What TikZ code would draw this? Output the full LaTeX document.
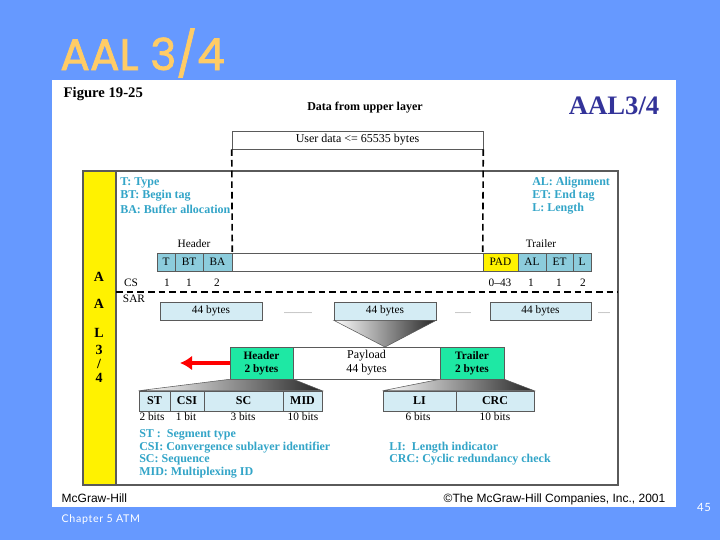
\documentclass[tikz,border=0pt]{standalone}
\usepackage{fontspec}
\setmainfont{Liberation Serif}
\newfontfamily\arialfont{Liberation Sans}
\newfontfamily\titlefont[FakeBold=1.6]{Poppins}
\newfontfamily\slidefont[LetterSpace=6]{Lato}
\usetikzlibrary{arrows.meta}

\definecolor{slidebg}{RGB}{102,153,255}
\definecolor{titlecol}{RGB}{255,204,102}
\definecolor{legendcol}{RGB}{51,165,200}
\definecolor{cscol}{RGB}{140,204,220}
\definecolor{sarcol}{RGB}{212,236,244}
\definecolor{greencol}{RGB}{30,232,164}
\definecolor{aalblue}{RGB}{51,51,153}
\definecolor{framecol}{RGB}{90,90,90}

\begin{document}
\begin{tikzpicture}[x=0.75pt, y=-0.75pt,
	lbl/.style={font=\fontsize{8.5}{10}\selectfont, inner sep=0pt},
	legend/.style={font=\bfseries\fontsize{9}{10.5}\selectfont, text=legendcol, anchor=west, inner sep=0pt},
	cell/.style={draw=framecol, inner sep=0pt, minimum height=18*0.75pt, font=\fontsize{8.5}{10}\selectfont},
	gcell/.style={draw=framecol, fill=greencol, inner sep=0pt, minimum height=32*0.75pt, align=center, font=\bfseries\fontsize{8.5}{10}\selectfont},
	funnel/.style={left color=white, right color=black!85, draw=framecol}]
	
	% Slide background
	\useasboundingbox (0,0) rectangle (720,540);
	\fill[slidebg] (0,0) rectangle (720,540);
	\fill[white] (52,80) rectangle (676,507);
	
	% Slide title and footer
	\node[anchor=base west, text=titlecol, font=\titlefont\fontsize{33}{33}\selectfont, inner sep=0pt] (title) at (60,70) {AAL 3/4};
	\node[anchor=west, text=white, font=\slidefont\fontsize{8}{9}\selectfont] (chapter) at (57,519) {Chapter 5 ATM};
	\node[text=white, font=\slidefont\fontsize{8.5}{9}\selectfont] (pageno) at (704,507) {45};
	\node[anchor=base west, font=\arialfont\fontsize{9}{10}\selectfont] (pub) at (57,502) {McGraw-Hill};
	\node[anchor=base east, font=\arialfont\fontsize{9}{10}\selectfont] (copy) at (670,502) {\textcopyright The McGraw-Hill Companies, Inc., 2001};
	
	% Figure heading
	\node[anchor=base west, font=\bfseries\fontsize{11}{12}\selectfont] (fig) at (59,97) {Figure 19-25};
	\node[font=\bfseries\fontsize{9}{10}\selectfont] (upper) at (365,108) {Data from upper layer};
	\node[anchor=base east, text=aalblue, font=\bfseries\fontsize{20}{20}\selectfont] (aal) at (664,114) {AAL3/4};
	\node[cell, minimum width=251*0.75pt, font=\fontsize{9}{10}\selectfont] (user) at (357.5,140) {User data <= 65535 bytes};
	
	% Layer frame
	\draw[framecol, line width=1pt] (83,171) rectangle (618,485);
	\filldraw[fill=yellow, draw=framecol, line width=1pt] (83,171) rectangle (116,485);
	\foreach \ch/\y in {A/277,A/304,L/333,3/350,{/}/364,4/378}
	\node[font=\bfseries\fontsize{10.5}{12}\selectfont, inner sep=0pt] at (99,\y) {\ch};
	
	% CS legends
	\node[legend] (lt) at (120,183) {T: Type};
	\node[legend] (lbt) at (120,196) {BT: Begin tag};
	\node[legend] (lba) at (120,209) {BA: Buffer allocation};
	\node[legend] (lal) at (532,183) {AL: Alignment};
	\node[legend] (let) at (532,196) {ET: End tag};
	\node[legend] (ll) at (532,209) {L: Length};
	
	% CS PDU
	\node[lbl] (hlabel) at (194,244) {Header};
	\node[lbl] (tlabel) at (541,244) {Trailer};
	\foreach \nm/\txt/\a/\b/\fc in {t/T/157/175/cscol, bt/BT/175/203/cscol, ba/BA/203/232/cscol, data//232/483/white, pad/PAD/483/518/yellow, al/AL/518/546/cscol, et/ET/546/573/cscol, l/L/573/591/cscol}
	\node[cell, fill=\fc, minimum width={(\b-\a)*0.75pt}] (\nm) at ({(\a+\b)/2},262) {\txt};
	
	\draw[dashed, line width=1.2pt, dash pattern=on 5pt off 3pt] (user.south west) -- (ba.north east);
	\draw[dashed, line width=1.2pt, dash pattern=on 5pt off 3pt] (user.south east) -- (pad.north west);
	
	\node[lbl] (cs) at (131,283) {CS};
	\foreach \x/\n in {167/1, 189/1, 217/2, 500/0--43, 531/1, 559/1, 583/2}
	\node[lbl] at (\x,283) {\n};
	
	% CS / SAR boundary
	\draw[dashed, line width=1.2pt, dash pattern=on 5pt off 3pt] (116,292) -- (618,292);
	\node[lbl] (sar) at (134,299) {SAR};
	
	% SAR segments
	\foreach \nm/\a/\b in {sa/160/262, sb/334/436, sc/490/591}
	\node[cell, fill=sarcol, minimum width={(\b-\a)*0.75pt}] (\nm) at ({(\a+\b)/2},311) {44 bytes};
	\node[lbl, text=black!70, font=\fontsize{6}{7}\selectfont] at (298,313) {..............};
	\node[lbl, text=black!70, font=\fontsize{6}{7}\selectfont] at (463,313) {........};
	\node[lbl, text=black!70, font=\fontsize{6}{7}\selectfont] at (604,313) {......};
	
	% SAR PDU
	\node[gcell, minimum width=63*0.75pt] (hdr) at (261.5,363) {Header\\2 bytes};
	\node[cell, minimum width=147*0.75pt, minimum height=32*0.75pt, align=center, font=\fontsize{9}{10.5}\selectfont] (pay) at (366.5,363) {Payload\\44 bytes};
	\node[gcell, minimum width=64*0.75pt] (trl) at (472,363) {Trailer\\2 bytes};
	\coordinate (tip) at (385,347);
	\shade[funnel] (sb.south west) -- (sb.south east) -- (tip) -- cycle;
	
	\coordinate (away) at (180,363);
	\draw[red, line width=3.5pt, -{Latex[length=9pt,width=11pt]}] (hdr.west) -- (away);
	
	% Header and trailer fields
	\foreach \nm/\txt/\a/\b in {st/ST/139/170, csi/CSI/170/204, sq/SC/204/283, mid/MID/283/322, li/LI/383/456, crc/CRC/456/534}
	\node[cell, fill=sarcol, minimum height=20*0.75pt, font=\bfseries\fontsize{9}{10}\selectfont, minimum width={(\b-\a)*0.75pt}] (\nm) at ({(\a+\b)/2},401) {\txt};
	\shade[funnel] (hdr.south west) -- (hdr.south east) -- (mid.north east) -- (st.north west) -- cycle;
	\shade[funnel] (trl.south west) -- (trl.south east) -- (crc.north east) -- (li.north west) -- cycle;
	
	\foreach \x/\n in {152/2 bits, 186/1 bit, 243/3 bits, 303/10 bits, 418/6 bits, 495/10 bits}
	\node[lbl] at (\x,417) {\n};
	
	% SAR legends
	\node[legend] (lst) at (139,435) {ST :\ \ Segment type};
	\node[legend] (lcsi) at (139,448) {CSI: Convergence sublayer identifier};
	\node[legend] (lsc) at (139,460) {SC: Sequence};
	\node[legend] (lmid) at (139,473) {MID: Multiplexing ID};
	\node[legend] (lli) at (389,448) {LI:\ \ Length indicator};
	\node[legend] (lcrc) at (389,460) {CRC: Cyclic redundancy check};
	
\end{tikzpicture}
\end{document}
